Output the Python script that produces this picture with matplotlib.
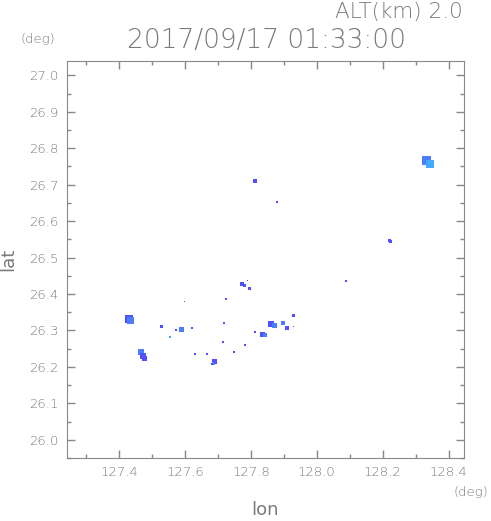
import matplotlib.pyplot as plt
import numpy as np

# echo cells (lon, lat, size in px, level 1=dark 2=mid 3=light)
lon = [128.333, 128.343, 128.219, 128.222, 128.089,
       127.430, 127.436, 127.466, 127.474, 127.478,
       127.530, 127.555, 127.573, 127.591, 127.622, 127.600, 127.630,
       127.813, 127.880, 127.773, 127.782, 127.795, 127.790, 127.725,
       127.719, 127.862, 127.870, 127.898, 127.910, 127.928, 127.928,
       127.836, 127.843, 127.813, 127.716, 127.782, 127.749, 127.667,
       127.690, 127.686, 127.682]
lat = [26.765, 26.758, 26.547, 26.543, 26.435,
       26.332, 26.326, 26.240, 26.230, 26.224,
       26.312, 26.283, 26.302, 26.302, 26.307, 26.378, 26.234,
       26.710, 26.652, 26.428, 26.424, 26.414, 26.437, 26.386,
       26.321, 26.318, 26.313, 26.321, 26.307, 26.340, 26.312,
       26.290, 26.287, 26.296, 26.269, 26.261, 26.242, 26.234,
       26.215, 26.210, 26.207]
size = [9, 8, 3, 3, 2,
        8, 7, 6, 6, 5,
        3, 2, 2, 5, 2, 1, 2,
        4, 2, 4, 3, 3, 1, 2,
        2, 6, 5, 4, 4, 3, 1,
        5, 4, 2, 2, 2, 2, 2,
        5, 3, 2]
level = [2, 3, 1, 1, 1,
         1, 2, 2, 1, 1,
         1, 3, 1, 2, 1, 1, 1,
         1, 1, 1, 1, 1, 1, 1,
         1, 1, 2, 2, 1, 1, 1,
         1, 2, 1, 1, 1, 1, 1,
         1, 2, 1]

xticks = [127.4, 127.6, 127.8, 128.0, 128.2, 128.4]
yticks = [26.0, 26.1, 26.2, 26.3, 26.4, 26.5, 26.6, 26.7, 26.8, 26.9, 27.0]

cmap = {1: '#5050ff', 2: '#4a7dff', 3: '#44a8ff'}
colors = [cmap[l] for l in level]
s = (np.array(size) * 0.72) ** 2

gray = '#888888'
tgray = '#7a7a7a'
plt.rcParams['font.weight'] = 'light'

fig = plt.figure(figsize=(4.91, 5.21), dpi=100)
ax = fig.add_axes([0.1355, 0.121, 0.8095, 0.761])
ax.scatter(lon, lat, s=s, c=colors, marker='s', linewidths=0)

ax.set_xlim(127.241, 128.446)
ax.set_ylim(25.959, 27.038)
ax.set_xticks(xticks)
ax.set_yticks(yticks)
ax.set_xticks(np.arange(127.3, 128.45, 0.2), minor=True)
ax.set_yticks(np.arange(25.95, 27.04, 0.1), minor=True)
ax.set_xticklabels(['%.1f' % v for v in xticks])
ax.set_yticklabels(['%.1f' % v for v in yticks])
ax.tick_params(which='both', direction='in', top=True, right=True,
               color=gray, labelcolor=tgray, labelsize=9.5, width=1)
ax.tick_params(which='major', length=6, pad=6)
ax.tick_params(which='minor', length=3)
for sp in ax.spines.values():
    sp.set_color(gray)

ax.set_xlabel('lon', fontsize=13, color=tgray, labelpad=16)
ax.set_ylabel('lat', fontsize=13, color=tgray, labelpad=8)

fig.text(0.943, 0.977, 'ALT(km) 2.0', fontsize=15.5, color=tgray, ha='right', va='center')
fig.text(0.542, 0.923, '2017/09/17 01:33:00', fontsize=19, color=tgray, ha='center', va='center')
fig.text(0.078, 0.925, '(deg)', fontsize=9.5, color=tgray, ha='center', va='center')
fig.text(0.960, 0.055, '(deg)', fontsize=9.5, color=tgray, ha='center', va='center')

fig.savefig('out.png', dpi=100)
